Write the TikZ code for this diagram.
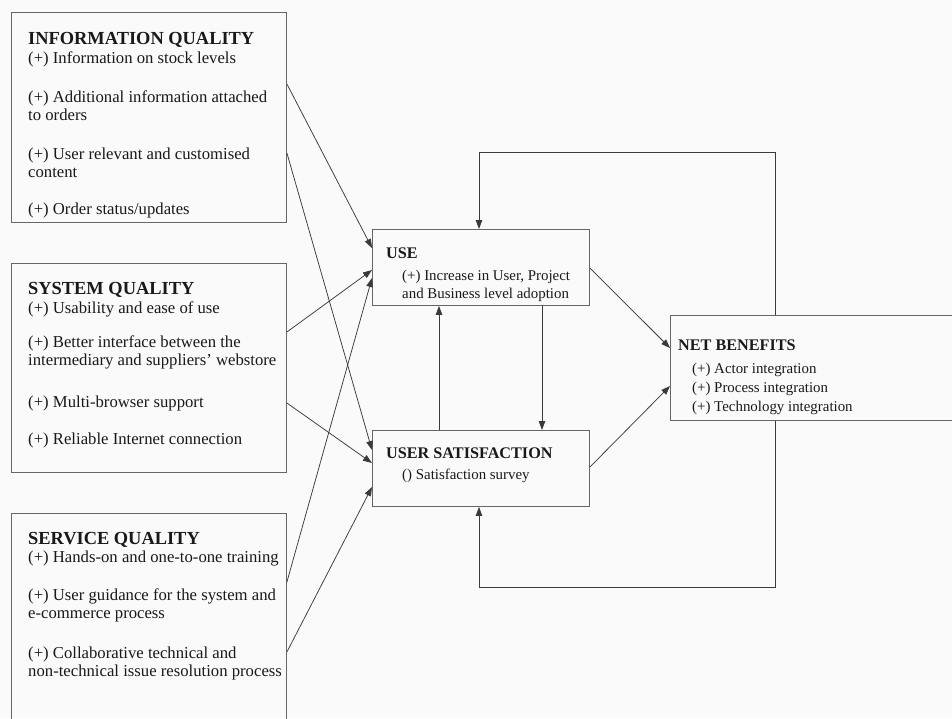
\documentclass[tikz,border=0pt]{standalone}
\usepackage{fontspec}
\setmainfont{Liberation Serif}
\usetikzlibrary{arrows.meta, positioning, calc}

\definecolor{boxline}{HTML}{666666}
\definecolor{inkline}{HTML}{3A3A3A}
\definecolor{paper}{HTML}{FAFAFA}
\newcommand{\ttl}[1]{{\fontsize{18.4}{18}\selectfont\bfseries #1}}
\newcommand{\mttl}[1]{{\fontsize{16.2}{18}\selectfont\bfseries #1}}
\newcommand{\ind}{\hspace*{16pt}}

\begin{document}
\begin{tikzpicture}[x=1pt, y=-1pt, >={Triangle[length=9pt, width=6.5pt]},
  box/.style={draw=boxline, line width=0.9pt, inner sep=0pt, anchor=north west},
  txt/.style={inner sep=0pt, anchor=north west, align=left, text=black!90,
    font=\fontsize{16.7}{18}\selectfont},
  mtxt/.style={txt, font=\fontsize{14.9}{18}\selectfont},
  link/.style={->, line width=0.75pt, draw=inkline}]
  \useasboundingbox[fill=paper] (0,0) rectangle (952,718);

  % Quality boxes on the left
  \node[box, minimum width=275pt, minimum height=210pt] (iq) at (11,12) {};
  \node[box, minimum width=275pt, minimum height=209pt] (sq) at (11,263) {};
  \node[box, minimum width=275pt, minimum height=215pt] (sv) at (11,513) {};
  % Middle and right boxes
  \node[box, minimum width=217pt, minimum height=76pt] (use) at (372,229) {};
  \node[box, minimum width=217pt, minimum height=76pt] (us) at (372,430) {};
  \node[box, minimum width=290pt, minimum height=105pt] (nb) at (670,315) {};

  % Texts (top of first line = baseline - cap height)
  \node[txt] (iqtxt) at (28,32) {\ttl{INFORMATION QUALITY}\\[1pt]
    (+) Information on stock levels\\[21pt]
    (+) Additional information attached\\
    to orders\\[21pt]
    (+) User relevant and customised\\
    content\\[19pt]
    (+) Order status/updates};
  \node[txt] (sqtxt) at (28,282) {\ttl{SYSTEM QUALITY}\\[1pt]
    (+) Usability and ease of use\\[16pt]
    (+) Better interface between the\\
    intermediary and suppliers’ webstore\\[24pt]
    (+) Multi-browser support\\[19pt]
    (+) Reliable Internet connection};
  \node[txt] (svtxt) at (28,532) {\ttl{SERVICE QUALITY}\\
    (+) Hands-on and one-to-one training\\[20pt]
    (+) User guidance for the system and\\
    e-commerce process\\[22pt]
    (+) Collaborative technical and\\
    non-technical issue resolution process};
  \node[mtxt] (usetxt) at (386,247.4) {\mttl{USE}\\[4pt]
    \ind(+) Increase in User, Project\\
    \ind and Business level adoption};
  \node[mtxt] (ustxt) at (386,447.4) {\mttl{USER SATISFACTION}\\[3pt]
    \ind() Satisfaction survey};
  \node[mtxt] (nbtxt) at (678,339.4) {\mttl{NET BENEFITS}\\[5pt]
    \hspace*{14pt}(+) Actor integration\\[1pt]
    \hspace*{14pt}(+) Process integration\\[1pt]
    \hspace*{14pt}(+) Technology integration};

  % Left-hand connectors
  \draw[link] ($(iq.north east)+(0,72)$) -- ($(use.north west)+(0,19)$);
  \draw[link] ($(iq.north east)+(0,141)$) -- ($(us.north west)+(0,20)$);
  \draw[link] ($(sq.north east)+(0,69)$) -- ($(use.north west)+(0,41)$);
  \draw[link] ($(sq.north east)+(0,140)$) -- ($(us.north west)+(0,33)$);
  \draw[link] ($(sv.north east)+(0,69)$) -- ($(use.north west)+(0,49)$);
  \draw[link] ($(sv.north east)+(0,139)$) -- ($(us.north west)+(0,57)$);

  % Use and satisfaction
  \draw[link] ($(us.north west)+(67,0)$) -- ($(use.south west)+(67,0)$);
  \draw[link] ($(use.south west)+(170,0)$) -- ($(us.north west)+(170,0)$);
  \draw[link] ($(use.north east)+(0,39)$) -- ($(nb.north west)+(0,33)$);
  \draw[link] ($(us.north east)+(0,37)$) -- ($(nb.north west)+(0,71)$);

  % Feedback loops
  \draw[link] ($(nb.north west)+(105,0)$) -- ++(0,-163) -| ($(use.north west)+(107,0)$);
  \draw[link] ($(nb.south west)+(105,0)$) -- ++(0,166) -| ($(us.south west)+(107,0)$);
\end{tikzpicture}
\end{document}
